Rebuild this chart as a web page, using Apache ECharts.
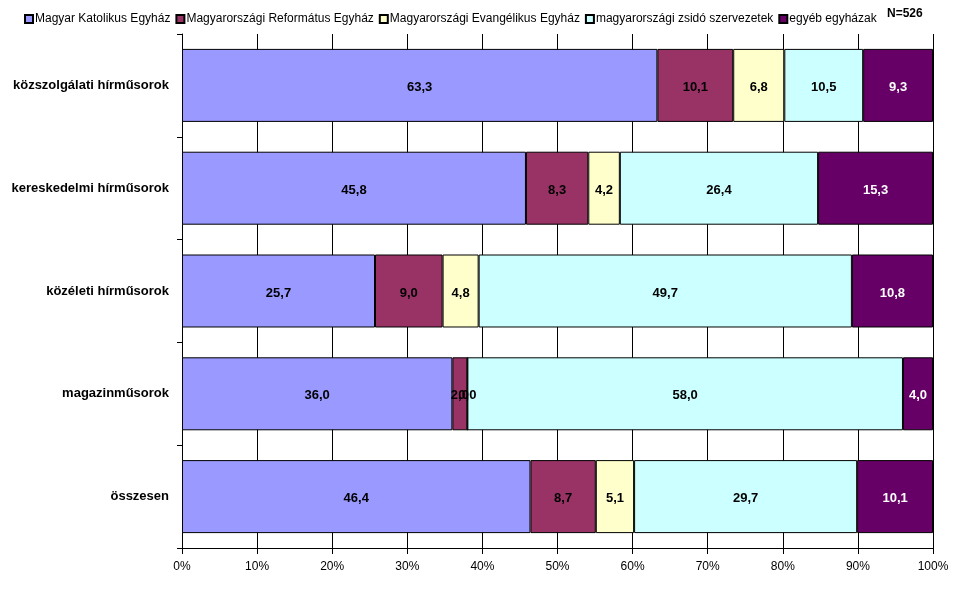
<!DOCTYPE html>
<html><head><meta charset="utf-8">
<script src="https://cdn.jsdelivr.net/npm/echarts@6/dist/echarts.min.js"></script>
<style>html,body{margin:0;padding:0;background:#fff}#c{width:969px;height:592px}</style>
</head><body><div id="c"></div>
<script>
const categories = ['közszolgálati hírműsorok','kereskedelmi hírműsorok','közéleti hírműsorok','magazinműsorok','összesen'];
const seriesNames = ['Magyar Katolikus Egyház','Magyarországi Református Egyház','Magyarországi Evangélikus Egyház','magyarországi zsidó szervezetek','egyéb egyházak'];
const katolikus = [63.3, 45.8, 25.7, 36.0, 46.4];
const reformatus = [10.1, 8.3, 9.0, 2.0, 8.7];
const evangelikus = [6.8, 4.2, 4.8, 0.0, 5.1];
const zsido = [10.5, 26.4, 49.7, 58.0, 29.7];
const egyeb = [9.3, 15.3, 10.8, 4.0, 10.1];
const xTicks = [0,10,20,30,40,50,60,70,80,90,100];
const colors = ['#9999FF','#993366','#FFFFCC','#CCFFFF','#660066'];
const labelColors = ['#000','#000','#000','#000','#fff'];
const values = [katolikus, reformatus, evangelikus, zsido, egyeb];
const font = '"Liberation Sans", Arial, sans-serif';

const chart = echarts.init(document.getElementById('c'));
chart.setOption({
  animation:false,
  textStyle:{fontFamily:font},
  title:{text:'N=526', left:882, top:3, textStyle:{fontSize:12, fontWeight:'bold', color:'#000', fontFamily:font}},
  legend:{left:19, top:8, itemWidth:8, itemHeight:8, itemGap:5, icon:'rect',
    textStyle:{fontSize:12, color:'#000', fontFamily:font, padding:[0,0,0,-3]},
    data:seriesNames},
  grid:{left:182, right:36, top:34, bottom:44, containLabel:false},
  xAxis:{type:'value', min:0, max:100, interval:10,
    axisLine:{show:true, lineStyle:{color:'#000'}},
    axisTick:{show:true, length:6, lineStyle:{color:'#000'}},
    axisLabel:{formatter:v=>v+'%', color:'#000', fontSize:12, fontFamily:font, margin:13},
    splitLine:{show:true, lineStyle:{color:'#000', width:1}}},
  yAxis:{type:'category', data:categories, inverse:true,
    axisLine:{show:true, lineStyle:{color:'#000'}},
    axisTick:{show:true, length:5, lineStyle:{color:'#000'}},
    axisLabel:{color:'#000', fontSize:13, fontWeight:'bold', fontFamily:font, margin:13}},
  series: seriesNames.map((n,i)=>({
    name:n, type:'bar', stack:'s', data:values[i], barCategoryGap:'29%',
    itemStyle:{color:colors[i], borderColor:'#000', borderWidth:1},
    label:{show:true, position:'inside', color:labelColors[i], fontSize:13, fontWeight:'bold', fontFamily:font,
      offset:[0,2], formatter:p=>p.value.toFixed(1).replace('.',',')}
  }))
});
</script></body></html>
